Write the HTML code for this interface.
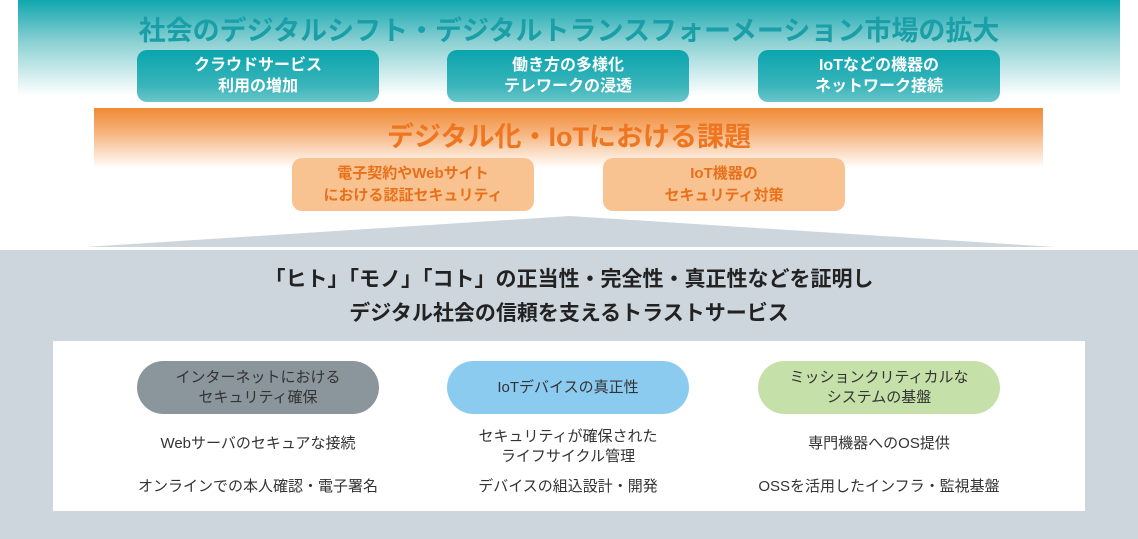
<!DOCTYPE html>
<html><head><meta charset="utf-8"><style>
*{margin:0;padding:0;box-sizing:border-box}
body{width:1138px;height:539px;background:#fff;position:relative;overflow:hidden;font-family:"Liberation Sans","Noto Sans CJK JP",sans-serif}
.a{position:absolute}
.c{display:flex;align-items:center;justify-content:center;text-align:center}
.tb{left:137px;width:242px;height:52px;top:50px;border-radius:10px;background:linear-gradient(#0aa4ad,#3bb5bb 70%,#6cc6ca);color:#fff;font-weight:bold;font-size:16px;line-height:21px}
.ob{top:158px;width:242px;height:53px;border-radius:10px;background:#f9c391;color:#e8701a;font-weight:bold;font-size:15px;line-height:22px}
.pl{top:361px;width:242px;height:53px;border-radius:27px;color:#333;font-size:15px;line-height:20px}
.tx{font-size:15px;color:#333;text-align:center;width:300px;line-height:20px}
</style></head><body>
<div class="a" style="left:18px;top:0;width:1102px;height:96px;background:linear-gradient(#10a6ae,#8fd2d4 45%,#ffffff)"></div>
<div class="a c" style="left:0;width:1138px;top:10px;height:36px;color:#1a9fa8;font-size:27px;font-weight:bold">社会のデジタルシフト・デジタルトランスフォーメーション市場の拡大</div>
<div class="a c tb" style="left:137px">クラウドサービス<br>利用の増加</div>
<div class="a c tb" style="left:447px">働き方の多様化<br>テレワークの浸透</div>
<div class="a c tb" style="left:758px">IoTなどの機器の<br>ネットワーク接続</div>
<div class="a" style="left:94px;top:108px;width:949px;height:60px;background:linear-gradient(#f08a35,#f6b27a 40%,#ffffff)"></div>
<div class="a c" style="left:0;width:1138px;top:116px;height:36px;color:#ee7620;font-size:27px;font-weight:bold">デジタル化・IoTにおける課題</div>
<div class="a c ob" style="left:292px">電子契約やWebサイト<br>における認証セキュリティ</div>
<div class="a c ob" style="left:603px">IoT機器の<br>セキュリティ対策</div>
<svg class="a" style="left:0;top:0" width="1138" height="260"><polygon points="570,216 85,247 1055,247" fill="#cdd6dd"/></svg>
<div class="a" style="left:0;top:250px;width:1138px;height:289px;background:#cdd6dd"></div>
<div class="a c" style="left:0;width:1138px;top:263px;height:30px;font-size:21px;font-weight:bold;color:#222">「ヒト」「モノ」「コト」の正当性・完全性・真正性などを証明し</div>
<div class="a c" style="left:0;width:1138px;top:297px;height:30px;font-size:21px;font-weight:bold;color:#222">デジタル社会の信頼を支えるトラストサービス</div>
<div class="a" style="left:53px;top:341px;width:1032px;height:170px;background:#fff"></div>
<div class="a c pl" style="left:137px;background:#8a959c">インターネットにおける<br>セキュリティ確保</div>
<div class="a c pl" style="left:447px;background:#8ccbf0">IoTデバイスの真正性</div>
<div class="a c pl" style="left:758px;background:#c6e0a9">ミッションクリティカルな<br>システムの基盤</div>
<div class="a tx" style="left:108px;top:434px">Webサーバのセキュアな接続</div>
<div class="a tx" style="left:108px;top:477px">オンラインでの本人確認・電子署名</div>
<div class="a tx" style="left:418px;top:427px">セキュリティが確保された<br>ライフサイクル管理</div>
<div class="a tx" style="left:418px;top:477px">デバイスの組込設計・開発</div>
<div class="a tx" style="left:729px;top:434px">専門機器へのOS提供</div>
<div class="a tx" style="left:729px;top:477px">OSSを活用したインフラ・監視基盤</div>
</body></html>
